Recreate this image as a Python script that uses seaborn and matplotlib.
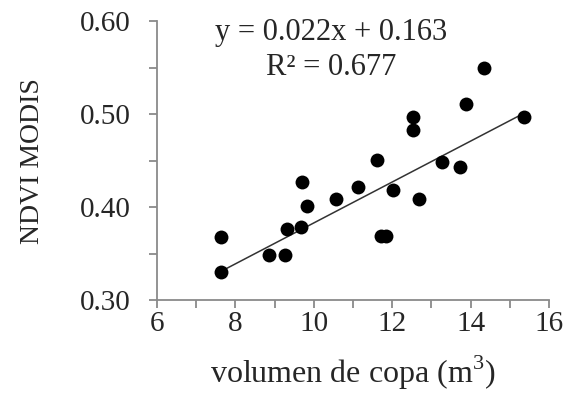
import matplotlib
matplotlib.use("Agg")
import matplotlib.pyplot as plt
import seaborn as sns
import numpy as np
import pandas as pd
from matplotlib.ticker import MultipleLocator

volumen = [7.62, 7.62, 8.86, 9.27, 9.32, 9.67, 9.69, 9.82, 10.57, 11.12, 11.60,
           11.70, 11.85, 12.01, 12.54, 12.54, 12.67, 13.26, 13.73, 13.87, 14.35, 15.37]
ndvi = [0.368, 0.330, 0.348, 0.348, 0.376, 0.379, 0.427, 0.401, 0.409, 0.422, 0.451,
        0.369, 0.369, 0.418, 0.497, 0.483, 0.409, 0.448, 0.443, 0.511, 0.550, 0.497]
slope, intercept = 0.022, 0.163
eq_text = "y = 0.022x + 0.163"
r2_text = "R² = 0.677"
x_ticks = [6, 8, 10, 12, 14, 16]
x_ticklabels = ["6", "8", "10", "12", "14", "16"]
y_ticks = [0.30, 0.40, 0.50, 0.60]
y_ticklabels = ["0.30", "0.40", "0.50", "0.60"]

sns.set_style("white")
plt.rcParams['font.family'] = ['Liberation Serif', 'DejaVu Serif']
plt.rcParams['mathtext.fontset'] = 'custom'
plt.rcParams['mathtext.rm'] = 'Liberation Serif'

df = pd.DataFrame({"volumen": volumen, "ndvi": ndvi})

fig = plt.figure(figsize=(5.69, 3.98), dpi=100)
ax = fig.add_axes([0.276, 0.246, 0.689, 0.701])

sns.scatterplot(data=df, x="volumen", y="ndvi", ax=ax, color="black", s=100,
                edgecolor="black", linewidth=0, zorder=3)
xl = np.array([min(volumen), max(volumen)])
sns.lineplot(x=xl, y=slope * xl + intercept, ax=ax, color="#333333", linewidth=1.1, zorder=2)

ax.set_xlim(6, 16)
ax.set_ylim(0.30, 0.60)
ax.set_xticks(x_ticks)
ax.set_xticklabels(x_ticklabels)
ax.xaxis.set_minor_locator(MultipleLocator(1))
ax.set_yticks(y_ticks)
ax.set_yticklabels(y_ticklabels)
ax.yaxis.set_minor_locator(MultipleLocator(0.05))

for s in ["top", "right"]:
    ax.spines[s].set_visible(False)
for s in ["left", "bottom"]:
    ax.spines[s].set_color("#8a8a8a")
    ax.spines[s].set_linewidth(1.3)

ax.tick_params(axis="both", which="both", direction="out", length=6, width=1.3,
               color="#8a8a8a", left=True, bottom=True)
ax.tick_params(axis="x", which="major", labelsize=21, pad=2)
ax.tick_params(axis="y", which="major", labelsize=21, pad=13)

ax.set_xlabel("volumen de copa (m$^3$)", fontsize=23, labelpad=12)
ax.set_ylabel("NDVI MODIS", fontsize=20, labelpad=25)

ax.text(0.444, 0.96, eq_text, transform=ax.transAxes, fontsize=22, ha="center", va="center")
ax.text(0.444, 0.835, r2_text, transform=ax.transAxes, fontsize=22, ha="center", va="center")

fig.savefig("out.png", dpi=100)
